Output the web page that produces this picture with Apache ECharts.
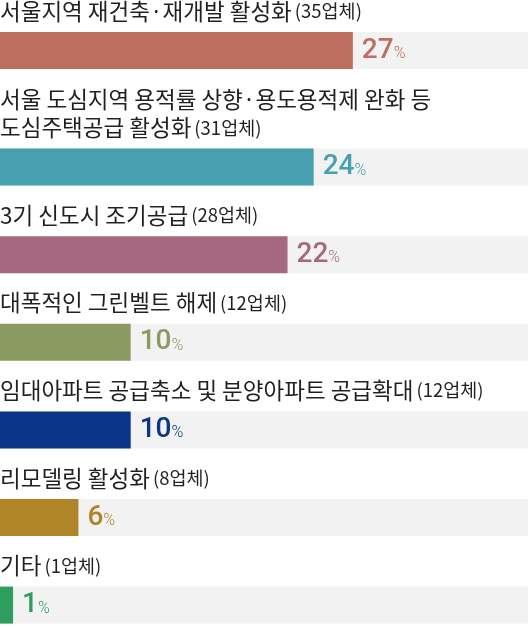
<!DOCTYPE html>
<html><head><meta charset="utf-8">
<script src="https://cdn.jsdelivr.net/npm/echarts@6/dist/echarts.min.js"></script>
<style>html,body{margin:0;padding:0;background:#fff}#c{width:528px;height:627px}</style>
</head><body><div id="c"></div>
<script>
const categories = [
  '서울지역 재건축·재개발 활성화',
  '서울 도심지역 용적률 상향·용도용적제 완화 등\n도심주택공급 활성화',
  '3기 신도시 조기공급',
  '대폭적인 그린벨트 해제',
  '임대아파트 공급축소 및 분양아파트 공급확대',
  '리모델링 활성화',
  '기타'
];
const companyCounts = ['35업체', '31업체', '28업체', '12업체', '12업체', '8업체', '1업체'];
const percentValues = [27, 24, 22, 10, 10, 6, 1];
const barColors = ['#bc6e5f', '#46a0af', '#a5687e', '#8b9a61', '#0c3487', '#b08428', '#2e9e5e'];

(function () {
const chart = echarts.init(document.getElementById('c'));
const grids = [], xAxes = [], yAxes = [], series = [];
let gTop = 32;
const BAR_H = 37, STEP = 87.6, LINE = 29;
const NUM_FONT = "Roboto, sans-serif";
categories.forEach((name, i) => {
  const lines = name.split('\n');
  if (i > 0) gTop += STEP + (lines.length - 1) * LINE;
  grids.push({ left: 0, right: 0, top: gTop, height: BAR_H, containLabel: false, outerBoundsMode: 'none' });
  xAxes.push({ type: 'value', gridIndex: i, min: 0, max: 40.4, show: false });
  const nameText = lines.map((l, k) => k === lines.length - 1
      ? '{t|' + l + '}{s|(' + companyCounts[i] + ')}'
      : '{t|' + l + '}').join('\n');
  yAxes.push({
    type: 'category', gridIndex: i, data: [name],
    axisLine: { show: false }, axisTick: { show: false }, axisLabel: { show: false },
    splitLine: { show: false },
    name: nameText, nameLocation: 'end', nameGap: 7,
    nameTextStyle: {
      align: 'left', verticalAlign: 'bottom', padding: 0,
      rich: {
        t: { fontFamily: 'Noto Sans CJK KR', fontSize: 22.5, color: '#231f20', lineHeight: 28 },
        s: { fontFamily: 'Noto Sans CJK KR', fontSize: 18.5, color: '#231f20', lineHeight: 28, padding: [0, 0, 0, 3] }
      }
    }
  });
  series.push({
    type: 'bar', xAxisIndex: i, yAxisIndex: i, barWidth: BAR_H,
    data: [percentValues[i]],
    itemStyle: { color: barColors[i] },
    showBackground: true, backgroundStyle: { color: '#f2f2f2' },
    silent: true, animation: false,
    label: {
      show: true, position: 'right', distance: 9,
      formatter: p => '{v|' + p.value + '}{p|%}',
      rich: {
        v: { fontFamily: NUM_FONT, fontWeight: 500, fontSize: 28, color: barColors[i] },
        p: { fontFamily: NUM_FONT, fontWeight: 300, fontSize: 16, color: barColors[i], padding: [7, 0, 0, 0] }
      }
    }
  });
});
chart.setOption({ animation: false, grid: grids, xAxis: xAxes, yAxis: yAxes, series: series });
})();
</script></body></html>
